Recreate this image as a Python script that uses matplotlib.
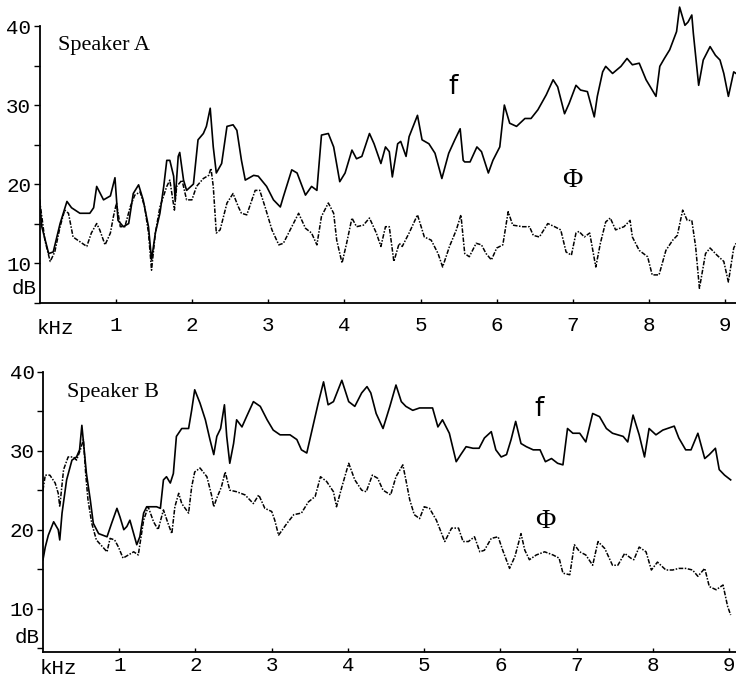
import matplotlib
matplotlib.use('Agg')
import matplotlib.pyplot as plt
from matplotlib.ticker import MultipleLocator

# Speaker A
a_f_khz = [0.00, 0.03, 0.12, 0.18, 0.27, 0.36, 0.42, 0.53, 0.66, 0.71, 0.75, 0.84, 0.93, 0.99, 1.03, 1.10,
           1.17, 1.23, 1.30, 1.36, 1.43, 1.47, 1.52, 1.58, 1.63, 1.67, 1.71, 1.76, 1.78, 1.82, 1.84, 1.89,
           1.93, 2.02, 2.08, 2.15, 2.19, 2.24, 2.28, 2.32, 2.39, 2.46, 2.54, 2.59, 2.65, 2.70, 2.81, 2.87,
           2.98, 3.07, 3.16, 3.20, 3.31, 3.38, 3.49, 3.57, 3.64, 3.70, 3.79, 3.86, 3.94, 4.01, 4.10, 4.16,
           4.23, 4.33, 4.39, 4.48, 4.54, 4.59, 4.63, 4.70, 4.74, 4.81, 4.85, 4.96, 5.02, 5.11, 5.19, 5.28,
           5.37, 5.45, 5.52, 5.56, 5.58, 5.65, 5.74, 5.80, 5.89, 5.95, 6.04, 6.10, 6.17, 6.26, 6.37, 6.45,
           6.54, 6.65, 6.74, 6.80, 6.89, 6.95, 7.04, 7.10, 7.19, 7.28, 7.32, 7.39, 7.43, 7.52, 7.63, 7.71,
           7.78, 7.87, 7.96, 8.09, 8.14, 8.20, 8.27, 8.36, 8.40, 8.47, 8.51, 8.56, 8.58, 8.65, 8.71, 8.80,
           8.87, 8.93, 8.98, 9.04, 9.11, 9.14]
a_f_db = [18.0, 14.6, 11.2, 11.4, 15.0, 17.8, 17.0, 16.3, 16.3, 17.0, 19.7, 18.0, 18.5, 20.8, 15.4, 14.6,
          15.0, 18.8, 19.9, 18.0, 14.6, 10.4, 13.8, 16.3, 19.7, 23.0, 23.0, 21.0, 18.0, 23.5, 24.0, 20.5,
          19.2, 20.0, 25.6, 26.4, 27.3, 29.6, 24.7, 21.4, 22.6, 27.3, 27.5, 26.8, 23.0, 20.5, 21.1, 21.0,
          19.7, 18.0, 17.1, 18.4, 21.8, 21.4, 18.6, 19.7, 19.2, 26.2, 26.4, 24.7, 20.3, 21.4, 24.3, 23.2,
          23.5, 26.4, 25.1, 22.6, 24.7, 24.1, 20.9, 25.1, 25.4, 23.5, 26.0, 28.7, 25.6, 25.1, 23.9, 20.7,
          23.9, 25.6, 27.0, 23.0, 22.8, 22.8, 24.7, 24.1, 21.4, 23.0, 24.7, 30.0, 27.7, 27.3, 28.3, 28.3,
          29.4, 31.3, 33.2, 32.3, 28.9, 30.2, 32.5, 31.9, 31.7, 28.5, 31.1, 34.2, 34.9, 34.0, 34.9, 35.9,
          35.1, 35.3, 33.2, 31.1, 34.9, 35.9, 37.0, 39.3, 42.4, 40.1, 40.5, 41.4, 39.1, 32.5, 35.7, 37.4,
          36.3, 35.7, 34.0, 31.1, 34.2, 34.0]

a_p_khz = [0.00, 0.03, 0.07, 0.14, 0.20, 0.27, 0.33, 0.38, 0.44, 0.53, 0.62, 0.68, 0.75, 0.79, 0.86, 0.93,
           0.97, 1.01, 1.06, 1.12, 1.19, 1.25, 1.32, 1.38, 1.43, 1.47, 1.52, 1.58, 1.67, 1.71, 1.77, 1.80,
           1.87, 1.93, 2.00, 2.06, 2.15, 2.22, 2.25, 2.28, 2.32, 2.37, 2.46, 2.54, 2.61, 2.65, 2.72, 2.83,
           2.89, 2.96, 3.05, 3.14, 3.20, 3.29, 3.40, 3.49, 3.57, 3.64, 3.70, 3.79, 3.86, 3.90, 3.97, 4.03,
           4.10, 4.16, 4.25, 4.33, 4.42, 4.48, 4.54, 4.59, 4.65, 4.72, 4.76, 4.85, 4.96, 5.05, 5.14, 5.23,
           5.29, 5.38, 5.47, 5.53, 5.58, 5.64, 5.73, 5.80, 5.86, 5.93, 6.00, 6.08, 6.15, 6.21, 6.34, 6.43,
           6.48, 6.56, 6.67, 6.76, 6.84, 6.91, 6.98, 7.04, 7.08, 7.15, 7.22, 7.30, 7.36, 7.43, 7.49, 7.56,
           7.67, 7.75, 7.78, 7.87, 7.98, 8.04, 8.13, 8.22, 8.31, 8.37, 8.44, 8.50, 8.56, 8.61, 8.66, 8.74,
           8.80, 8.89, 8.98, 9.04, 9.11, 9.14]
a_p_db = [18.0, 15.9, 12.9, 10.2, 11.4, 14.6, 16.7, 16.3, 13.3, 12.7, 12.1, 13.8, 15.0, 14.2, 12.3, 13.8,
          15.9, 17.6, 14.6, 14.6, 17.1, 18.6, 19.0, 17.1, 13.8, 9.1, 13.8, 17.1, 19.7, 20.5, 16.7, 19.7,
          20.5, 18.0, 18.0, 19.7, 20.7, 21.1, 22.0, 19.7, 13.8, 14.2, 17.6, 18.8, 17.1, 16.3, 16.1, 19.2,
          19.2, 17.1, 14.2, 12.3, 12.5, 14.2, 16.3, 14.4, 13.8, 12.3, 15.9, 17.6, 16.3, 12.9, 10.0, 12.5,
          15.7, 14.6, 14.8, 15.7, 13.8, 12.1, 14.6, 14.6, 10.2, 12.5, 12.1, 13.8, 16.1, 13.3, 12.9, 11.2,
          9.5, 12.1, 14.2, 16.1, 11.2, 10.8, 12.5, 12.3, 11.2, 10.4, 11.9, 12.3, 16.5, 14.8, 14.6, 14.6,
          13.5, 13.3, 15.0, 14.6, 14.2, 11.4, 11.0, 13.8, 14.0, 13.3, 13.8, 9.5, 12.5, 15.2, 15.7, 14.2,
          14.6, 15.4, 13.3, 11.6, 10.8, 8.5, 8.5, 11.6, 12.9, 13.5, 16.7, 15.4, 15.4, 12.1, 6.8, 11.2,
          11.9, 11.0, 10.2, 7.6, 11.9, 12.5]

# Speaker B
b_f_khz = [0.00, 0.03, 0.07, 0.14, 0.20, 0.22, 0.25, 0.31, 0.38, 0.44, 0.48, 0.51, 0.54, 0.57, 0.62, 0.66,
           0.73, 0.84, 0.90, 0.97, 1.01, 1.06, 1.10, 1.14, 1.19, 1.23, 1.27, 1.32, 1.36, 1.49, 1.54, 1.58,
           1.62, 1.67, 1.71, 1.75, 1.82, 1.91, 1.95, 1.99, 2.06, 2.13, 2.19, 2.24, 2.28, 2.33, 2.38, 2.41,
           2.45, 2.50, 2.54, 2.61, 2.67, 2.76, 2.85, 2.94, 3.02, 3.11, 3.24, 3.33, 3.39, 3.46, 3.55, 3.61,
           3.68, 3.74, 3.81, 3.92, 4.01, 4.09, 4.18, 4.25, 4.30, 4.37, 4.46, 4.55, 4.63, 4.70, 4.76, 4.85,
           4.94, 5.11, 5.18, 5.24, 5.33, 5.42, 5.48, 5.55, 5.64, 5.72, 5.79, 5.88, 5.94, 6.01, 6.08, 6.14,
           6.20, 6.27, 6.34, 6.43, 6.52, 6.59, 6.67, 6.75, 6.82, 6.88, 6.95, 7.04, 7.12, 7.21, 7.30, 7.39,
           7.47, 7.61, 7.67, 7.74, 7.82, 7.89, 7.95, 8.04, 8.13, 8.28, 8.34, 8.43, 8.50, 8.59, 8.68, 8.74,
           8.82, 8.87, 8.94, 9.02]
b_f_db = [16.2, 17.8, 19.3, 21.0, 20.0, 18.7, 22.1, 26.3, 28.8, 29.2, 30.1, 33.2, 30.1, 27.1, 23.8, 20.8,
          19.5, 19.1, 20.8, 22.7, 21.6, 20.0, 20.4, 21.2, 19.5, 18.1, 19.1, 22.1, 22.9, 22.9, 22.7, 26.3,
          26.7, 25.9, 27.1, 31.8, 32.8, 32.8, 35.1, 37.7, 36.0, 33.9, 31.4, 29.5, 31.8, 32.8, 35.8, 31.8,
          28.4, 30.9, 33.9, 33.0, 34.3, 36.2, 35.6, 33.9, 32.6, 32.0, 32.0, 31.4, 30.1, 29.7, 33.5, 36.0,
          38.7, 35.8, 36.2, 38.9, 36.2, 35.6, 37.3, 38.1, 37.3, 34.7, 32.8, 35.6, 38.3, 36.2, 35.6, 35.1,
          35.4, 35.4, 33.0, 33.9, 32.2, 28.6, 29.5, 30.5, 30.3, 30.3, 31.6, 32.4, 30.1, 29.2, 29.5, 31.4,
          33.7, 30.9, 30.5, 30.1, 30.1, 28.6, 29.0, 28.4, 28.2, 32.8, 32.2, 32.2, 31.1, 34.7, 34.3, 32.8,
          32.2, 31.8, 31.1, 34.5, 32.0, 29.2, 32.8, 32.0, 32.6, 33.1, 31.6, 30.1, 30.1, 32.2, 29.0, 29.5,
          30.3, 27.6, 26.9, 26.3]

b_p_khz = [0.00, 0.03, 0.09, 0.16, 0.20, 0.22, 0.27, 0.33, 0.40, 0.44, 0.49, 0.53, 0.56, 0.59, 0.64, 0.70,
           0.84, 0.88, 0.94, 0.99, 1.05, 1.12, 1.19, 1.25, 1.32, 1.38, 1.45, 1.51, 1.58, 1.64, 1.69, 1.73,
           1.78, 1.82, 1.91, 1.95, 1.99, 2.06, 2.15, 2.21, 2.24, 2.28, 2.34, 2.39, 2.45, 2.54, 2.65, 2.76,
           2.83, 2.91, 3.00, 3.04, 3.09, 3.20, 3.29, 3.39, 3.48, 3.57, 3.64, 3.72, 3.81, 3.85, 3.92, 4.01,
           4.09, 4.18, 4.24, 4.32, 4.39, 4.46, 4.56, 4.63, 4.72, 4.76, 4.81, 4.87, 4.94, 5.00, 5.07, 5.16,
           5.27, 5.36, 5.45, 5.51, 5.58, 5.66, 5.73, 5.79, 5.88, 5.97, 6.03, 6.12, 6.19, 6.27, 6.32, 6.38,
           6.47, 6.58, 6.69, 6.77, 6.82, 6.91, 6.97, 7.04, 7.12, 7.21, 7.28, 7.37, 7.47, 7.54, 7.63, 7.71,
           7.75, 7.82, 7.91, 7.98, 8.06, 8.17, 8.26, 8.34, 8.43, 8.52, 8.59, 8.68, 8.74, 8.83, 8.92, 8.98,
           9.02]
b_p_db = [25.0, 26.9, 26.9, 25.9, 24.6, 22.9, 27.6, 29.2, 29.2, 28.8, 30.1, 31.4, 27.1, 23.8, 20.8, 18.7,
          17.2, 18.9, 18.7, 17.8, 16.4, 16.8, 17.2, 16.8, 21.2, 22.9, 21.0, 20.0, 22.5, 20.8, 19.5, 22.9,
          24.6, 23.3, 22.1, 25.4, 27.3, 27.8, 26.7, 24.4, 22.9, 24.0, 25.4, 27.3, 25.0, 24.8, 24.4, 23.3,
          24.4, 22.7, 22.3, 21.2, 19.3, 20.8, 21.9, 22.1, 23.5, 24.2, 26.7, 26.1, 24.8, 22.9, 25.4, 28.4,
          26.3, 25.0, 24.8, 26.9, 26.5, 25.0, 24.4, 26.7, 28.2, 26.3, 23.8, 21.9, 21.4, 22.9, 22.7, 21.2,
          18.5, 20.2, 20.2, 18.5, 18.5, 19.1, 17.2, 17.4, 18.9, 19.1, 17.4, 15.1, 16.6, 19.5, 17.4, 16.2,
          16.8, 17.2, 16.8, 16.4, 14.5, 14.3, 18.1, 17.2, 16.8, 15.5, 18.5, 17.6, 15.5, 15.5, 17.0, 16.4,
          16.2, 17.8, 17.2, 14.9, 15.9, 14.9, 14.9, 15.1, 15.1, 14.9, 14.1, 15.1, 12.8, 12.4, 13.0, 10.3,
          9.2]

y_ticks = [10, 20, 30, 40]
x_ticks = [1, 2, 3, 4, 5, 6, 7, 8, 9]

tick_font = {'family': 'Liberation Mono', 'size': 15}

fig = plt.figure(figsize=(7.36, 6.82), dpi=100)
ax_a = fig.add_axes([0.0537, 0.5557, 0.9463, 0.4443])
ax_b = fig.add_axes([0.0584, 0.0444, 0.9416, 0.4571])


def panel(ax, fx, fy, px, py, xmax, ylo, yhi, name, name_pos, f_pos, phi_pos, xpad):
    ax.plot(fx, fy, color='black', lw=1.2)
    ax.plot(px, py, color='black', lw=1.1, linestyle=(0, (3, 1, 1, 1)))
    ax.set_xlim(0, xmax)
    ax.set_ylim(ylo, yhi)
    for s in ['top', 'right']:
        ax.spines[s].set_visible(False)
    ax.spines['left'].set_bounds(ylo, 40)
    ax.spines['left'].set_linewidth(1.3)
    ax.spines['bottom'].set_linewidth(1.3)
    ax.set_yticks(y_ticks)
    ax.yaxis.set_minor_locator(MultipleLocator(5))
    ax.set_xticks(x_ticks)
    ax.set_xticklabels([str(t) for t in x_ticks], fontdict=tick_font)
    ax.set_yticklabels([str(t) for t in y_ticks], fontdict=tick_font)
    ax.tick_params(axis='y', which='both', direction='out', length=4, width=1, pad=2)
    ax.tick_params(axis='x', direction='in', length=3, width=1, pad=xpad)
    ax.annotate('dB', xy=(0, ylo), xycoords=('axes fraction', 'data'), xytext=(-3, 5),
                textcoords='offset pixels', ha='right', va='bottom', **tick_font)
    ax.annotate('kHz', xy=(0, 0), xycoords='axes fraction', xytext=(-3, -(xpad * 100 / 72 + 3)),
                textcoords='offset pixels', ha='left', va='top', **tick_font)
    ax.text(name_pos[0], name_pos[1], name, family='Liberation Serif', fontsize=16, va='center')
    ax.text(f_pos[0], f_pos[1], 'f', family='DejaVu Sans', fontsize=19, ha='center', va='center')
    ax.text(phi_pos[0], phi_pos[1], 'Φ', family='Liberation Serif', fontsize=20, ha='center', va='center')


panel(ax_a, a_f_khz, a_f_db, a_p_khz, a_p_db, 9.14, 4.94, 43.3,
      'Speaker A', (0.24, 37.5), (5.43, 32.3), (6.99, 20.4), 9)
panel(ax_b, b_f_khz, b_f_db, b_p_khz, b_p_db, 9.09, 4.56, 44.0,
      'Speaker B', (0.31, 37.3), (6.51, 35.3), (6.59, 21.0), 3)

plt.savefig('out.png', dpi=100)
